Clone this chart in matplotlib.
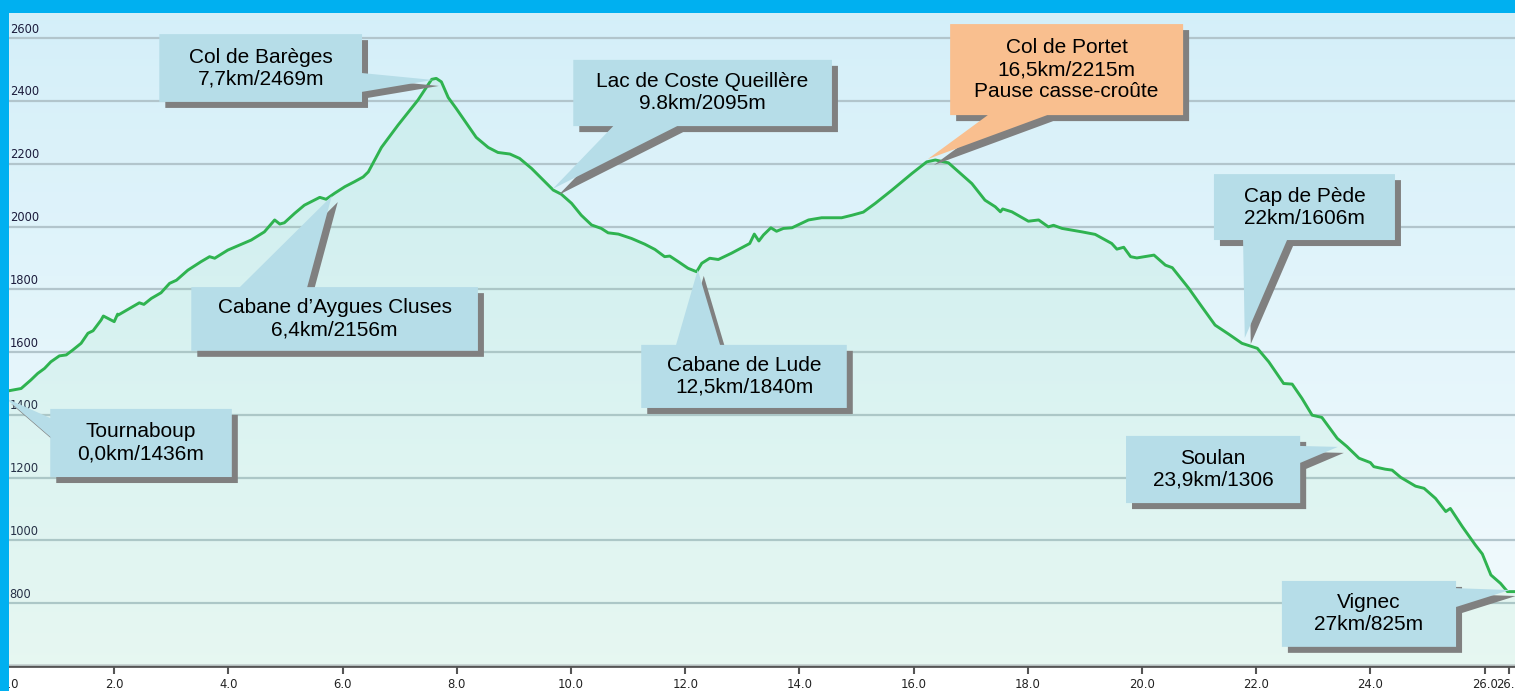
import numpy as np
import matplotlib.pyplot as plt
from matplotlib.patches import Polygon, Rectangle
from matplotlib.transforms import ScaledTranslation

# elevation profile: distance (km), elevation (m)
dist = [0.0, 0.16, 0.37, 0.54, 0.66, 0.78, 0.89, 1.04, 1.16, 1.27,
        1.42, 1.54, 1.63, 1.77, 1.81, 2.0, 2.06, 2.07, 2.27, 2.44,
        2.52, 2.65, 2.82, 2.97, 3.09, 3.29, 3.52, 3.67, 3.76, 3.99,
        4.40, 4.63, 4.81, 4.90, 4.98, 5.16, 5.33, 5.60, 5.71, 5.86,
        6.04, 6.21, 6.36, 6.45, 6.68, 6.97, 7.32, 7.56, 7.64, 7.73,
        7.85, 7.99, 8.17, 8.34, 8.55, 8.72, 8.93, 9.10, 9.31, 9.54,
        9.69, 9.83, 10.01, 10.18, 10.36, 10.53, 10.65, 10.83, 11.06, 11.29,
        11.47, 11.64, 11.73, 11.88, 12.05, 12.20, 12.29, 12.43, 12.58, 12.81,
        13.13, 13.21, 13.29, 13.37, 13.50, 13.60, 13.72, 13.87, 14.16, 14.39,
        14.74, 14.92, 15.12, 15.33, 15.62, 15.97, 16.23, 16.38, 16.61, 16.82,
        17.02, 17.25, 17.43, 17.52, 17.56, 17.72, 18.01, 18.19, 18.36, 18.45,
        18.60, 18.95, 19.18, 19.47, 19.56, 19.68, 19.80, 19.91, 20.21, 20.41,
        20.53, 20.82, 21.05, 21.28, 21.52, 21.75, 22.02, 22.22, 22.48, 22.63,
        22.80, 22.98, 23.15, 23.42, 23.59, 23.80, 24.00, 24.06, 24.26, 24.38,
        24.53, 24.79, 24.94, 25.14, 25.32, 25.40, 25.61, 25.84, 25.96, 26.11,
        26.28, 26.40, 26.54]
elev = [1472, 1477, 1484, 1511, 1532, 1548, 1569, 1588, 1591, 1606,
        1628, 1660, 1668, 1702, 1715, 1697, 1721, 1718, 1739, 1757,
        1752, 1771, 1789, 1819, 1829, 1861, 1888, 1904, 1899, 1925,
        1957, 1983, 2021, 2008, 2012, 2042, 2068, 2093, 2087, 2106,
        2127, 2143, 2158, 2174, 2252, 2323, 2403, 2469, 2472, 2461,
        2411, 2376, 2329, 2284, 2252, 2236, 2231, 2217, 2185, 2143,
        2116, 2103, 2074, 2036, 2005, 1994, 1980, 1976, 1962, 1944,
        1927, 1904, 1906, 1888, 1867, 1856, 1883, 1899, 1895, 1915,
        1946, 1976, 1954, 1973, 1996, 1985, 1994, 1996, 2021, 2028,
        2028, 2036, 2046, 2074, 2116, 2169, 2206, 2212, 2203, 2169,
        2137, 2084, 2063, 2047, 2056, 2047, 2017, 2021, 1999, 2004,
        1994, 1983, 1975, 1946, 1928, 1934, 1904, 1900, 1909, 1877,
        1869, 1803, 1744, 1686, 1657, 1628, 1612, 1569, 1500, 1498,
        1453, 1399, 1392, 1325, 1299, 1262, 1248, 1235, 1227, 1224,
        1201, 1173, 1166, 1134, 1092, 1102, 1044, 985, 957, 890,
        863, 837, 837]

y_ticks = [800, 1000, 1200, 1400, 1600, 1800, 2000, 2200, 2400, 2600]
x_ticks = [0, 2, 4, 6, 8, 10, 12, 14, 16, 18, 20, 22, 24, 26, 26.43]
x_tick_labels = ['0.0', '2.0', '4.0', '6.0', '8.0', '10.0', '12.0', '14.0',
                 '16.0', '18.0', '20.0', '22.0', '24.0', '26.0', '26.4']

callout_text = [
    "Tournaboup\n0,0km/1436m",
    "Cabane d\u2019Aygues Cluses\n6,4km/2156m",
    "Col de Barèges\n7,7km/2469m",
    "Lac de Coste Queillère\n9.8km/2095m",
    "Cabane de Lude\n12,5km/1840m",
    "Col de Portet\n16,5km/2215m\nPause casse-croûte",
    "Cap de Pède\n22km/1606m",
    "Soulan\n23,9km/1306",
    "Vignec\n27km/825m",
]

# callout layout: box (x0, x1, y0, y1), pointer side, pointer base, pointer tip
callout_box = [
    (0.88, 4.06, 1202, 1419), (3.35, 8.37, 1604, 1807), (2.79, 6.34, 2397, 2613),
    (10.04, 14.57, 2320, 2531), (11.23, 14.83, 1422, 1623), (16.64, 20.72, 2355, 2645),
    (21.26, 24.43, 1957, 2167), (19.72, 22.77, 1119, 1333), (22.45, 25.50, 661, 871),
]
callout_side = ['left', 'top', 'right', 'bottom', 'top', 'bottom', 'bottom', 'right', 'right']
callout_base = [(1330, 1390), (4.20, 5.38), (2429, 2489), (10.74, 11.86), (11.84, 12.61),
                (17.30, 18.34), (21.77, 22.54), (1247, 1301), (788, 848)]
callout_tip = [(0.09, 1454), (5.81, 2097), (7.58, 2467), (9.68, 2120), (12.22, 1862),
               (16.25, 2215), (21.80, 1645), (23.43, 1298), (26.44, 842)]
callout_color = ['#b6dde8'] * 5 + ['#f9bf8f'] + ['#b6dde8'] * 3


def callout_shape(box, side, base, tip):
    x0, x1, y0, y1 = box
    a, b = base
    if side == 'right':
        return [(x0, y0), (x1, y0), (x1, a), tip, (x1, b), (x1, y1), (x0, y1)]
    if side == 'left':
        return [(x0, y0), (x1, y0), (x1, y1), (x0, y1), (x0, b), tip, (x0, a)]
    if side == 'top':
        return [(x0, y0), (x1, y0), (x1, y1), (b, y1), tip, (a, y1), (x0, y1)]
    return [(x0, y0), (a, y0), tip, (b, y0), (x1, y0), (x1, y1), (x0, y1)]


W, H = 1515, 691
fig = plt.figure(figsize=(W / 100, H / 100), dpi=100)
fig.patch.set_facecolor('white')
ax = fig.add_axes([0, 25 / H, 1, 666 / H])

xmin, xmax = 0.0, W / 57.1
ymin, ymax = 600, 600 + 666 / 0.3139

# background gradient
grad = np.linspace(0, 1, 256).reshape(-1, 1)
top_c = np.array([0.831, 0.937, 0.976])
bot_c = np.array([0.955, 0.985, 0.992])
img = top_c * (1 - grad[..., None]) + bot_c * grad[..., None]
ax.imshow(img, extent=[xmin, xmax, ymin, ymax], aspect='auto', origin='upper', zorder=0)

for yt in y_ticks:
    ax.axhline(yt, color='#b2c5cc', lw=1.6, zorder=1)
    ax.text(0.17, yt + 8, str(yt), fontsize=8.3, color='#1c1c3c', ha='left', va='bottom',
            family='DejaVu Sans', zorder=2)

ax.fill_between(dist, elev, ymin, color='#7ddca0', alpha=0.11, lw=0, zorder=2)
ax.plot(dist, elev, color='#2fb350', lw=2.1, zorder=3, solid_joinstyle='round')

shadow = ax.transData + ScaledTranslation(0.06, -0.06, fig.dpi_scale_trans)
for i in range(len(callout_text)):
    pts = callout_shape(callout_box[i], callout_side[i], callout_base[i], callout_tip[i])
    ax.add_patch(Polygon(pts, closed=True, facecolor='#808080', edgecolor='none',
                         transform=shadow, zorder=4 + 2 * i, clip_on=False))
    ax.add_patch(Polygon(pts, closed=True, facecolor=callout_color[i], edgecolor='none',
                         zorder=5 + 2 * i, clip_on=False))
    x0, x1, y0, y1 = callout_box[i]
    ax.text((x0 + x1) / 2, (y0 + y1) / 2, callout_text[i], ha='center', va='center',
            fontsize=15, family='Liberation Sans', linespacing=1.2, color='black',
            zorder=30)

ax.set_xlim(xmin, xmax)
ax.set_ylim(ymin, ymax)
ax.set_yticks([])
ax.set_xticks(x_ticks)
ax.set_xticklabels(x_tick_labels, fontsize=8.4, family='DejaVu Sans', color='#222')
ax.get_xticklabels()[0].set_ha('left')
ax.tick_params(axis='x', direction='out', length=6, width=1.5, color='#555', pad=3)
for s in ['top', 'left', 'right']:
    ax.spines[s].set_visible(False)
ax.spines['bottom'].set_color('#555')
ax.spines['bottom'].set_linewidth(2)
ax.axhline(ymin + 4, color='#c4cfcf', lw=1.2, zorder=3)

# blue frame at top and left
fig.patches.append(Rectangle((0, 1 - 13 / H), 1, 13 / H, transform=fig.transFigure,
                             facecolor='#00b0f0', edgecolor='none', zorder=50))
fig.patches.append(Rectangle((0, 0), 9 / W, 1, transform=fig.transFigure,
                             facecolor='#00b0f0', edgecolor='none', zorder=50))

fig.savefig('out.png', dpi=100)
